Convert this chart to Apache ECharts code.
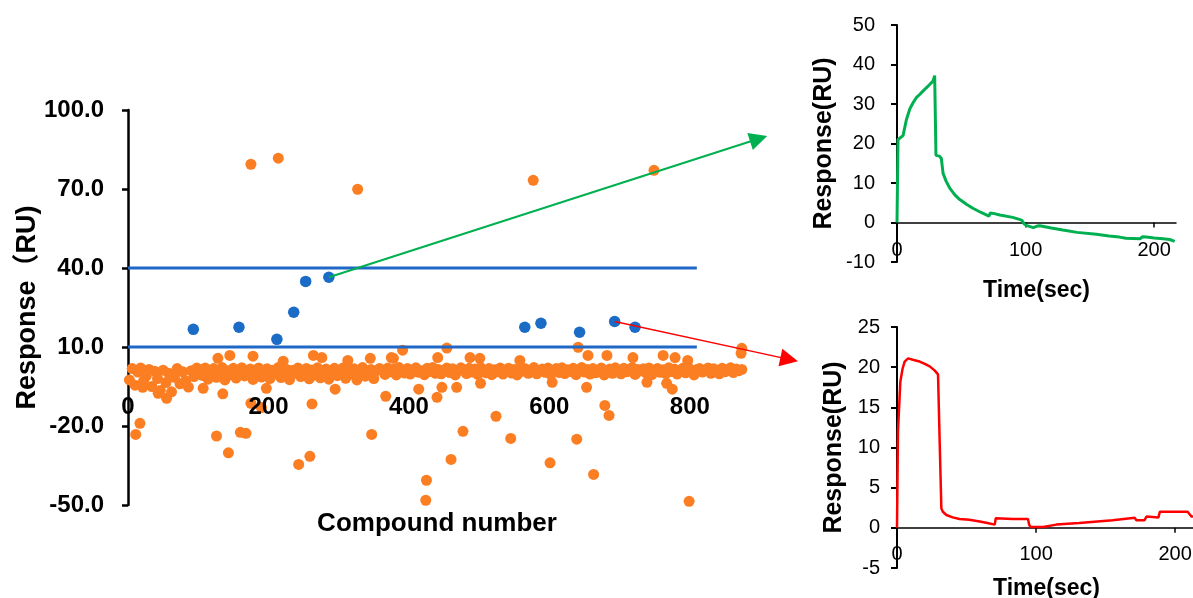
<!DOCTYPE html>
<html>
<head>
<meta charset="utf-8">
<script src="https://cdn.jsdelivr.net/npm/echarts@6/dist/echarts.min.js"></script>
<style>
html,body{margin:0;padding:0;background:#fff;}
#c{width:1193px;height:598px;}
</style>
</head>
<body>
<div id="c"></div>
<script>
// ---------- main scatter: compound screening ----------
const mainXTicks = [0, 200, 400, 600, 800];
const mainYTicks = [-50, -20, 10, 40, 70, 100];
const thresholds = [40, 10];
const thresholdSpan = [0, 810];

// dense band of responses near zero, one value every 4 compounds starting at compound 2
const bandStart = 2, bandStep = 4;
const bandY = [
 -2.5, 1.8, -4.5, 0.5, 2.0, -3.0, -1.0, 1.5, -5.0, 0.8, -2.0, -6.5, 1.2, -3.5, 0.0, -7.0, -1.5, 1.8, -4.0, 0.6, -2.8, -5.2, 1.0, -1.2, 2.0,
 1.5, -0.8, 2.0, -2.2, 0.6, 1.8, -1.5, 0.2, 2.2, -2.5, 1.0, -0.5, 1.9, -1.8, 0.8, 2.1, -1.0, 0.3, 1.6, -2.3,
 0.9, 2.0, -1.4, 0.5, 1.7, -2.0, 1.2, -0.3, 2.2, -1.6, 0.4, 1.5, -2.4, 1.1, 0.0, 2.0, -1.2, 0.7, 1.8, -2.1,
 1.3, -0.6, 2.1, -1.7, 0.2, 1.6, -2.2, 0.9, 1.9, -0.9, 0.5, 2.0, -1.9, 1.4, -0.2, 1.7, -2.5, 0.8, 2.2, -1.1,
 0.3, 1.5, -2.0, 1.0, 1.8,
 1.2, -0.4, 2.0, 0.6, 1.6, -0.6, 2.2, 0.9, 0.1, 1.8, -0.3, 1.4, 2.1, 0.4, 1.0, -0.5, 1.9, 0.7, 2.2, 0.0,
 1.5, -0.2, 1.1, 2.0, 0.3, 1.7, -0.6, 0.8, 2.1, 1.3, -0.1, 1.9, 0.5, 1.6, -0.4, 2.2, 1.0, 0.2, 1.8, -0.5,
 1.4, 0.6, 2.0, -0.3, 1.2, 1.9, 0.1, 1.5, -0.6, 2.1, 0.8, 1.7, 0.0, 1.3, 2.2, -0.2, 0.9, 1.6, 0.4, 2.0,
 -0.4, 1.1, 1.8, 0.3, 2.1, -0.1, 1.4, 0.7, 1.9, -0.5, 1.0, 2.2, 0.5, 1.5, -0.3, 1.8, 0.2, 1.2, 2.0, -0.6,
 0.8, 1.6, 0.0, 2.1, 1.3, -0.2, 1.9, 0.6, 1.1, 2.2, -0.4, 1.5, 0.9, 1.7, 0.1, 2.0, -0.5, 1.2, 1.8, 0.4,
 1.4, -0.1, 2.1, 0.7, 1.6, -0.3, 1.0, 1.9, 0.2, 2.2, 0.9, -0.6, 1.5, 1.8, 0.5, 1.3, 2.0, 0.0, 1.7, 1.1,
 -0.2, 1.9, 0.6, 1.4, 2.1, 0.3, 1.6, 1.0, 1.5
];

// individually visible orange compounds (outliers and bumps of the band)
const orangeX = [175,214,327,577,749,
 11,17,126,143,160,168,243,259,347,424,425,460,477,524,545,601,639,663,679,685,799,
 128,145,178,221,264,276,313,345,375,378,391,441,454,487,501,558,641,655,682,719,762,779,797,873,874,
 21,43,55,107,135,175,190,197,262,295,367,414,440,447,468,502,604,653,739,767,775];
const orangeY = [79.4,81.7,69.9,73.3,77.1,
 -23.2,-19,-23.8,-30.2,-22.4,-22.8,-34.6,-31.5,-23.2,-48.2,-40.6,-32.7,-22,-16.3,-24.7,-34,-25,-38.4,-12.2,-16,-48.6,
 5.7,6.8,6.5,4.6,6.8,6.0,4.9,5.7,6.0,5.7,8.8,6.0,9.6,6.0,5.7,4.9,9.9,6.8,6.8,6.0,6.8,6.0,4.9,7.6,9.5,
 -5.3,-7.6,-9.5,-5.7,-7.8,-11.4,-13.0,-5.7,-11.6,-6.0,-8.7,-6.0,-9.1,-5.3,-5.3,-3.8,-3.4,-5.3,-3.4,-3.8,-6.0];

// hits (between thresholds)
const blueX = [93,158,212,236,253,286,565,588,643,693,722];
const blueY = [16.7,17.5,12.9,23.2,34.9,36.5,17.5,19,15.6,19.7,17.5];

// arrows: from a hit to its sensorgram (end given in main-plot units)
const arrowFrom = [[286, 36.5], [693, 19.7]];
const arrowTo = [[898, 89.1], [941.5, 5.3]];

// ---------- sensorgram 1 (green) ----------
const greenT = [0,0.8,2,4.7,7.3,10,12.5,15,17.6,20,22.8,25,28,29.3,30,30.3,31,33,34.5,35.8,38,41,45,48.8,54,59,65,71.5,72.5,75,80,90,97,99,101,106,109,111,120,129,140,155,165,173,178,189,191,194,200,207,212,216];
const greenV = [0,21,21.5,22,26,28.8,30.3,31.6,32.4,33.2,34.1,34.8,35.8,37.2,37.3,17,16.5,16.8,16.2,12.5,10.6,8.7,7.0,5.8,4.6,3.6,2.6,1.6,2.4,2.3,1.9,1.3,0.6,-0.4,-0.8,-1.3,-0.9,-0.8,-1.4,-1.9,-2.5,-3.0,-3.4,-3.7,-4.0,-4.1,-3.6,-3.7,-3.9,-4.1,-4.3,-4.8];

// ---------- sensorgram 2 (red) ----------
const redT = [0,0.7,2.4,4,5.5,8,9.1,12,16.3,20,23.5,27,29.5,30.5,31.9,33,35.5,40,45,52,59.5,65,70.3,71,72,83.5,94.2,95,96,105,114.6,131,155,171,172,178,179.4,188,189,209,211.7,214];
const redV = [0,12,18.2,19.8,20.7,21.1,21.1,20.9,20.7,20.4,20.1,19.6,19.1,12,2.4,2.0,1.6,1.3,1.1,1.0,0.8,0.6,0.4,1.2,1.2,1.1,1.1,0.4,0.1,0.1,0.4,0.6,0.95,1.25,0.95,0.95,1.4,1.3,2.0,2.0,1.4,1.4];

const FONT = '"Liberation Sans", Arial, "Noto Sans CJK SC", sans-serif';
const pairs = (xs, ys) => xs.map((x, i) => [x, ys[i]]);

const bandData = bandY.map((v, i) => [bandStart + bandStep * i, v]);
const orangeData = bandData.concat(pairs(orangeX, orangeY));

const chart = echarts.init(document.getElementById('c'), null, {renderer: 'canvas'});

const boldLbl = (size) => ({fontFamily: FONT, fontSize: size, fontWeight: 'bold', color: '#000'});
const gridBase = {containLabel: false, outerBoundsMode: 'none'};

const grids = [
  {left: 128, top: 110, width: 618, height: 395},
  {left: 897, top: 25, width: 279, height: 237},
  {left: 897, top: 327, width: 299, height: 241}
];
const yRanges = [[-50, 100], [-10, 50], [-5, 25]];
// offset that puts each x axis on the y = 0 line of its grid
const zeroOffset = (g, r) => -g.height * (0 - r[0]) / (r[1] - r[0]);

const option = {
  animation: false,
  backgroundColor: '#fff',
  grid: grids.map(g => Object.assign({}, g, gridBase)),
  xAxis: [
    {
      gridIndex: 0, type: 'value', min: mainXTicks[0], max: 880, interval: 200, z: 3,
      offset: zeroOffset(grids[0], yRanges[0]),
      axisLine: {show: false, onZero: false},
      axisTick: {show: false},
      splitLine: {show: false},
      axisLabel: Object.assign(boldLbl(24), {margin: 22, showMaxLabel: false}),
      name: 'Compound number', nameLocation: 'middle', nameGap: 137, nameMoveOverlap: false,
      nameTextStyle: boldLbl(26)
    },
    {
      gridIndex: 1, type: 'value', min: 0, max: 217, interval: 100,
      offset: zeroOffset(grids[1], yRanges[1]),
      axisLine: {onZero: false, lineStyle: {color: '#000', width: 1.5}},
      axisTick: {length: 5, lineStyle: {color: '#000', width: 1.5}},
      splitLine: {show: false},
      axisLabel: {fontFamily: FONT, fontSize: 20, color: '#000', margin: 18, showMaxLabel: false},
      name: 'Time(sec)', nameLocation: 'middle', nameGap: 57,
      nameTextStyle: boldLbl(23)
    },
    {
      gridIndex: 2, type: 'value', min: 0, max: 215, interval: 100,
      offset: zeroOffset(grids[2], yRanges[2]),
      axisLine: {onZero: false, lineStyle: {color: '#000', width: 1.5}},
      axisTick: {length: 5, lineStyle: {color: '#000', width: 1.5}},
      splitLine: {show: false},
      axisLabel: {fontFamily: FONT, fontSize: 20, color: '#000', margin: 17, showMaxLabel: false},
      name: 'Time(sec)', nameLocation: 'middle', nameGap: 49,
      nameTextStyle: boldLbl(23)
    }
  ],
  yAxis: [
    {
      gridIndex: 0, type: 'value', min: yRanges[0][0], max: yRanges[0][1], interval: 30,
      axisLine: {show: true, onZero: false, lineStyle: {color: '#000', width: 2.5}},
      axisTick: {show: true, length: 6, lineStyle: {color: '#000', width: 2.5}},
      splitLine: {show: false},
      axisLabel: Object.assign(boldLbl(24), {margin: 24, formatter: v => v.toFixed(1)}),
      name: 'Response（RU)', nameLocation: 'middle', nameGap: 87, nameMoveOverlap: false,
      nameTextStyle: boldLbl(27)
    },
    {
      gridIndex: 1, type: 'value', min: yRanges[1][0], max: yRanges[1][1], interval: 10,
      axisLine: {show: true, onZero: false, lineStyle: {color: '#000', width: 2}},
      axisTick: {show: true, length: 6, lineStyle: {color: '#000', width: 2}},
      splitLine: {show: false},
      axisLabel: {fontFamily: FONT, fontSize: 20, color: '#000', margin: 22},
      name: 'Response(RU)', nameLocation: 'middle', nameGap: 60,
      nameTextStyle: boldLbl(25)
    },
    {
      gridIndex: 2, type: 'value', min: yRanges[2][0], max: yRanges[2][1], interval: 5,
      axisLine: {show: true, onZero: false, lineStyle: {color: '#000', width: 2}},
      axisTick: {show: true, length: 6, lineStyle: {color: '#000', width: 2}},
      splitLine: {show: false},
      axisLabel: {fontFamily: FONT, fontSize: 20, color: '#000', margin: 17},
      name: 'Response(RU)', nameLocation: 'middle', nameGap: 50,
      nameTextStyle: boldLbl(25)
    }
  ],
  series: [
    {
      type: 'scatter', xAxisIndex: 0, yAxisIndex: 0, z: 2,
      symbolSize: 11, itemStyle: {color: '#FC7E23', opacity: 1},
      data: orangeData
    },
    ...thresholds.map(t => ({
      type: 'line', xAxisIndex: 0, yAxisIndex: 0, z: 3,
      showSymbol: false, symbol: 'none',
      lineStyle: {color: '#1F68C8', width: 3},
      data: [[thresholdSpan[0], t], [thresholdSpan[1], t]]
    })),
    {
      type: 'scatter', xAxisIndex: 0, yAxisIndex: 0, z: 4,
      symbolSize: 11.5, itemStyle: {color: '#1A6CC6', opacity: 1},
      data: pairs(blueX, blueY)
    },
    {
      type: 'lines', coordinateSystem: 'cartesian2d', xAxisIndex: 0, yAxisIndex: 0, z: 5,
      clip: false, polyline: false,
      symbol: ['none', 'triangle'], symbolSize: [14, 18],
      data: [
        {coords: [arrowFrom[0], arrowTo[0]], lineStyle: {color: '#00B050', width: 2, opacity: 1}},
        {coords: [arrowFrom[1], arrowTo[1]], lineStyle: {color: '#FF0000', width: 1.5, opacity: 1}}
      ],
      lineStyle: {opacity: 1}
    },
    {
      type: 'line', xAxisIndex: 1, yAxisIndex: 1, showSymbol: false, symbol: 'none',
      lineStyle: {color: '#00B050', width: 3}, data: pairs(greenT, greenV)
    },
    {
      type: 'line', xAxisIndex: 2, yAxisIndex: 2, showSymbol: false, symbol: 'none',
      lineStyle: {color: '#FF0000', width: 2.5}, data: pairs(redT, redV)
    }
  ]
};
chart.setOption(option);
</script>
</body>
</html>
